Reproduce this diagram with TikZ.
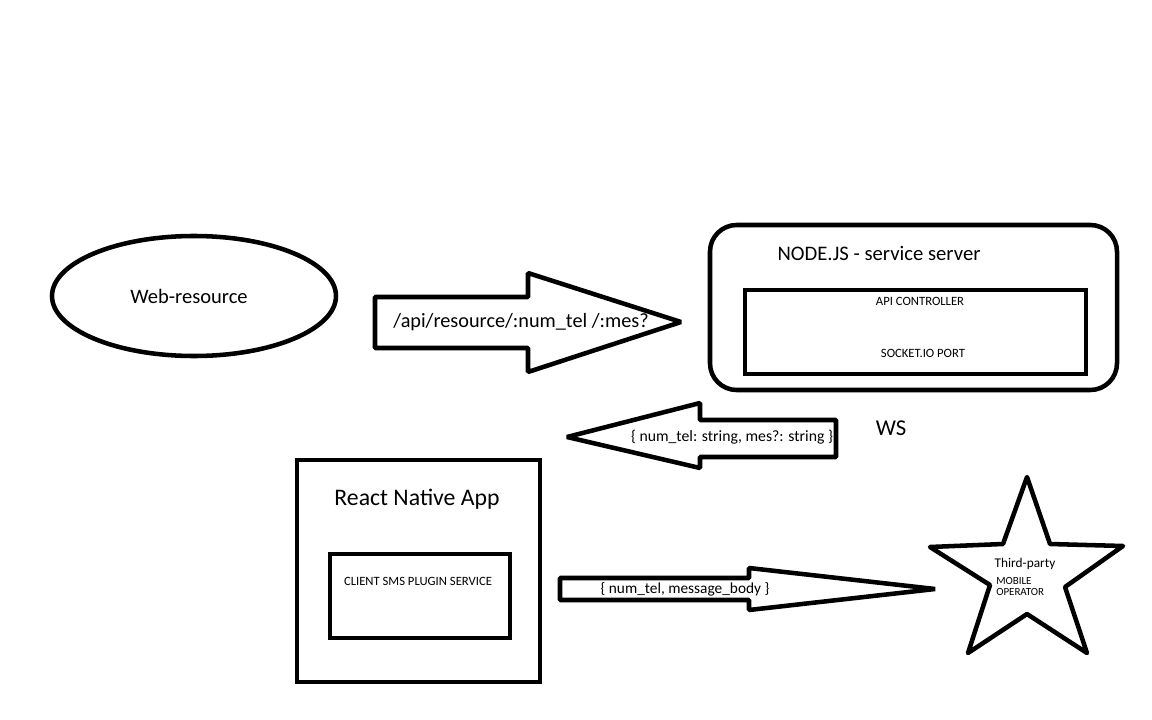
\documentclass[tikz,border=0pt]{standalone}
\usepackage{fontspec}
\setmainfont{Carlito}
\begin{document}
\begin{tikzpicture}[x=0.75pt,y=-0.75pt,
  shp/.style={draw=black,line width=3.4pt,fill=white},
  tipshp/.style={shp,line join=bevel},
  big/.style={font=\fontsize{15.4pt}{17pt}\selectfont,inner sep=0pt},
  small/.style={font=\fontsize{9.5pt}{11pt}\selectfont,inner sep=0pt}]
\useasboundingbox[fill=white] (0,0) rectangle (1152,720);
% Web-resource
\draw[shp] (194,296) ellipse [x radius=142, y radius=60];
\node[big] (web) at (189,296) {Web-resource};
% Arrow 1
\draw[tipshp] (375,297) -- (528,297) -- (528,273) -- (681,322) -- (528,372) -- (528,348) -- (375,348) -- cycle;
\node[big,font=\fontsize{15.2pt}{17pt}\selectfont] (a1) at (521,322) {/api/resource/:num\_tel /:mes?};
% Node.js server
\draw[shp,rounded corners=20] (710,225) rectangle (1117,390);
\node[big,font=\fontsize{15.5pt}{17pt}\selectfont] (srv) at (879,253) {NODE.JS - service server};
\draw[shp,line join=miter] (745,290) rectangle (1086,374);
\node[small] (api) at (920,301) {API CONTROLLER};
\node[small] (sock) at (923,353) {SOCKET.IO PORT};
% Arrow 2
\draw[tipshp] (836,420) -- (700,420) -- (700,403) -- (567,437) -- (700,468) -- (700,457) -- (836,457) -- cycle;
\node[big,font=\fontsize{11.8pt}{13pt}\selectfont] (a2) at (732,437) {\{ num\_tel: string, mes?: string \}};
\node[big,font=\fontsize{17pt}{19pt}\selectfont] (ws) at (891,428) {WS};
% React Native App
\draw[shp] (297,460) rectangle (540,682);
\node[big,font=\fontsize{17.8pt}{19pt}\selectfont] (rn) at (417,499) {React Native App};
\draw[shp] (330,554) rectangle (510,638);
\node[small] (cli) at (418,581) {CLIENT SMS PLUGIN SERVICE};
% Arrow 3
\draw[tipshp] (560,578) -- (749,578) -- (749,568) -- (935,589) -- (749,610) -- (749,600) -- (560,600) -- cycle;
\node[big,font=\fontsize{11.5pt}{13pt}\selectfont] (a3) at (685,589) {\{ num\_tel, message\_body \}};
% Star
\draw[shp,line join=round] (1027,477) -- (1050,544) -- (1123,546) -- (1065,587) -- (1087,653) -- (1027,614) -- (968,653) -- (990,585) -- (930,547) -- (1003,544) -- cycle;
\node[big,font=\fontsize{10pt}{11pt}\selectfont] (tp) at (1025,564) {Third-party};
\node[small,font=\fontsize{8.2pt}{9.5pt}\selectfont,anchor=west,align=left] (mo) at (996,586.5) {MOBILE\\[-1.5pt]OPERATOR};
\end{tikzpicture}
\end{document}
